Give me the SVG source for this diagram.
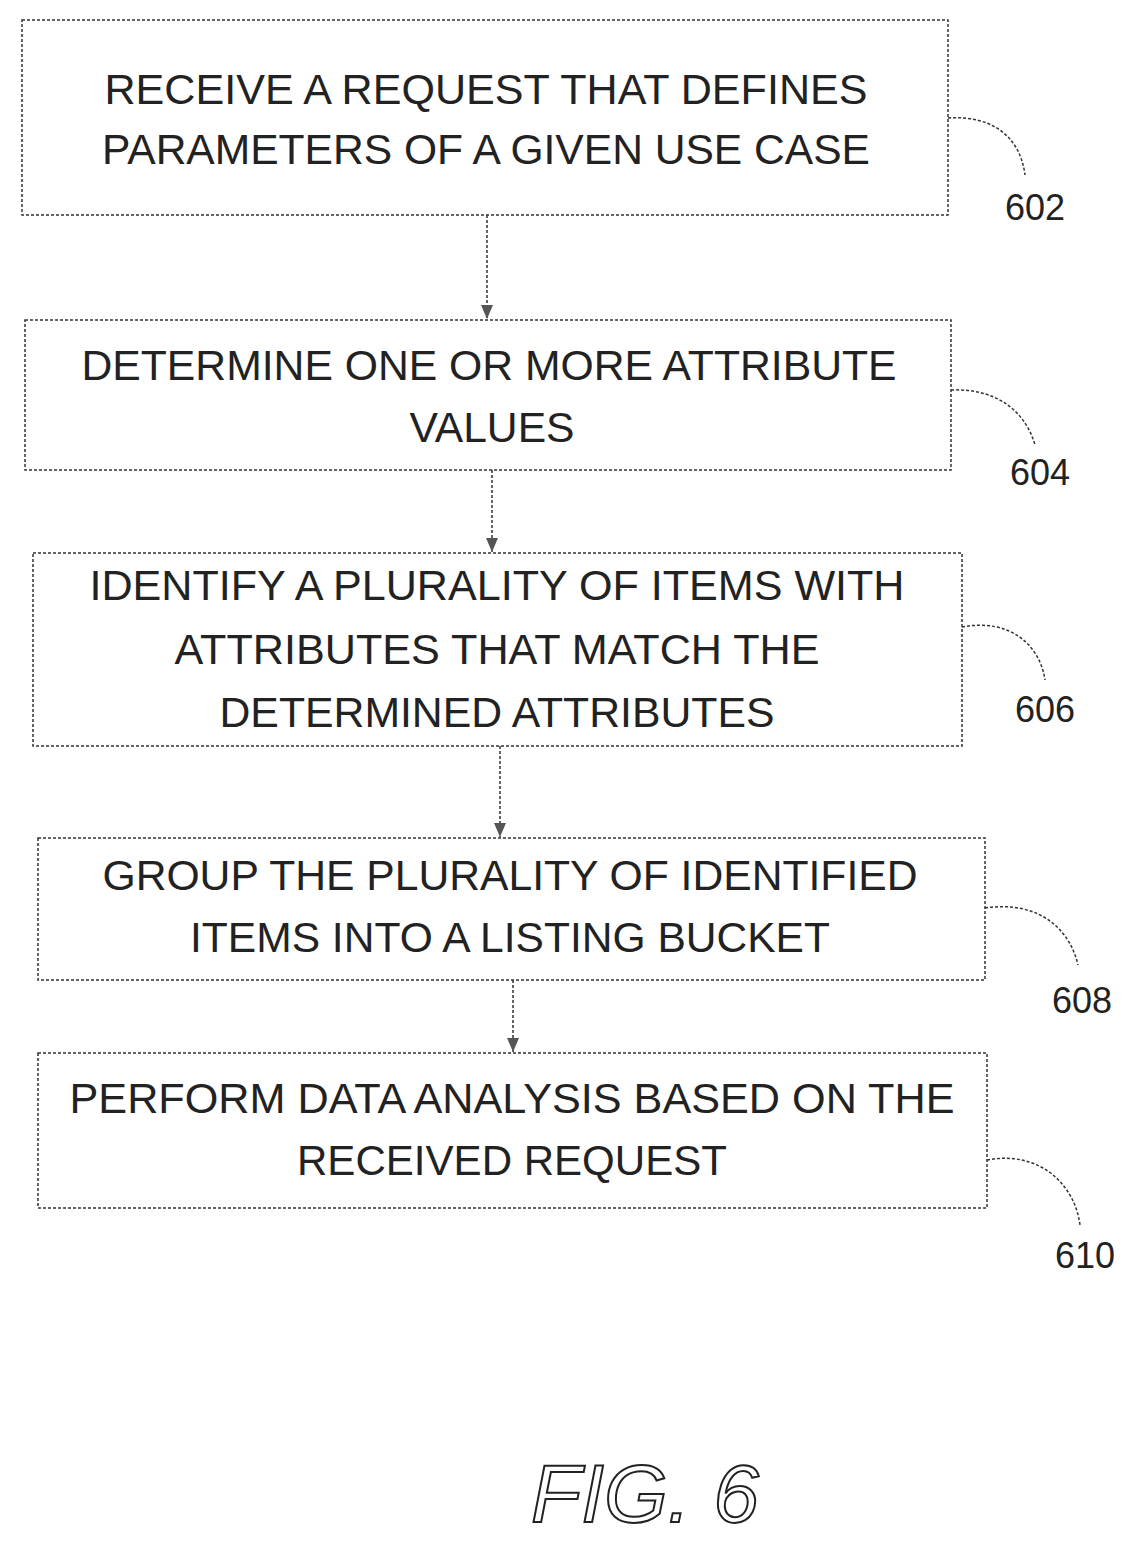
<svg xmlns="http://www.w3.org/2000/svg" width="1140" height="1544" viewBox="0 0 1140 1544">
<style>
.b{fill:#fff;stroke:#333;stroke-width:1.5;stroke-dasharray:3 2}
.t{font-family:"Liberation Sans",Arial,sans-serif;font-size:42px;fill:#222;text-anchor:middle}
.n{font-family:"Liberation Sans",Arial,sans-serif;font-size:36px;fill:#222;text-anchor:middle}
.c{fill:none;stroke:#333;stroke-width:1.5;stroke-dasharray:3 2}
</style>
<defs><marker id="a" markerWidth="14" markerHeight="12" refX="14" refY="6" orient="auto" markerUnits="userSpaceOnUse"><path d="M0,0 L14,6 L0,12 Z" fill="#555"/></marker></defs>
<rect width="1140" height="1544" fill="#fff"/>
<g id="n602"><rect class="b" x="22" y="20" width="926" height="195"/>
<text class="t" x="486" y="104" textLength="763" lengthAdjust="spacingAndGlyphs">RECEIVE A REQUEST THAT DEFINES</text>
<text class="t" x="486" y="164" textLength="768" lengthAdjust="spacingAndGlyphs">PARAMETERS OF A GIVEN USE CASE</text></g>
<g id="n604"><rect class="b" x="25" y="320" width="926" height="150"/>
<text class="t" x="489" y="380" textLength="815" lengthAdjust="spacingAndGlyphs">DETERMINE ONE OR MORE ATTRIBUTE</text>
<text class="t" x="492" y="442" textLength="165" lengthAdjust="spacingAndGlyphs">VALUES</text></g>
<g id="n606"><rect class="b" x="33" y="553" width="929" height="193"/>
<text class="t" x="497" y="600" textLength="815" lengthAdjust="spacingAndGlyphs">IDENTIFY A PLURALITY OF ITEMS WITH</text>
<text class="t" x="497" y="664" textLength="645" lengthAdjust="spacingAndGlyphs">ATTRIBUTES THAT MATCH THE</text>
<text class="t" x="497" y="727" textLength="555" lengthAdjust="spacingAndGlyphs">DETERMINED ATTRIBUTES</text></g>
<g id="n608"><rect class="b" x="38" y="838" width="947" height="142"/>
<text class="t" x="510" y="890" textLength="815" lengthAdjust="spacingAndGlyphs">GROUP THE PLURALITY OF IDENTIFIED</text>
<text class="t" x="510" y="952" textLength="640" lengthAdjust="spacingAndGlyphs">ITEMS INTO A LISTING BUCKET</text></g>
<g id="n610"><rect class="b" x="38" y="1053" width="949" height="155"/>
<text class="t" x="512" y="1113" textLength="885" lengthAdjust="spacingAndGlyphs">PERFORM DATA ANALYSIS BASED ON THE</text>
<text class="t" x="512" y="1175" textLength="430" lengthAdjust="spacingAndGlyphs">RECEIVED REQUEST</text></g>
<g id="connectors">
<line class="c" x1="487" y1="215" x2="487" y2="319" marker-end="url(#a)"/>
<line class="c" x1="492" y1="470" x2="492" y2="552" marker-end="url(#a)"/>
<line class="c" x1="500" y1="746" x2="500" y2="837" marker-end="url(#a)"/>
<line class="c" x1="513" y1="980" x2="513" y2="1052" marker-end="url(#a)"/>
<path class="c" d="M948,118 C990,115 1020,135 1025,175"/>
<path class="c" d="M951,390 C995,388 1025,410 1035,445"/>
<path class="c" d="M962,627 C1010,618 1040,645 1045,680"/>
<path class="c" d="M985,908 C1040,900 1070,930 1078,965"/>
<path class="c" d="M987,1160 C1040,1150 1075,1185 1080,1225"/>
</g>
<text class="n" x="1035" y="220">602</text>
<text class="n" x="1040" y="485">604</text>
<text class="n" x="1045" y="722">606</text>
<text class="n" x="1082" y="1013">608</text>
<text class="n" x="1085" y="1268">610</text>
<text x="645" y="1522" font-family="Liberation Sans,Arial,sans-serif" font-size="82" font-style="italic" text-anchor="middle" fill="#fff" stroke="#222" stroke-width="2">FIG. 6</text>
</svg>
